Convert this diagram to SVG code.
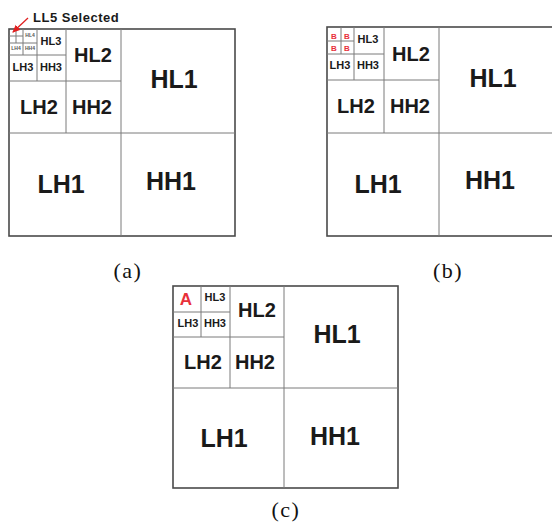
<svg xmlns="http://www.w3.org/2000/svg" width="552" height="524" viewBox="0 0 552 524">
<style>
.box{fill:#fff;stroke:#4a4a4a;stroke-width:1.6}
.ln{stroke:#7a7a7a;stroke-width:1;fill:none}
.t{font-family:"Liberation Sans",Arial,sans-serif;font-weight:bold;fill:#1a1a1a;text-anchor:middle}
.t1{font-size:25px}
.t2{font-size:20px}
.t3{font-size:11px}
.t4{font-size:5px;fill:#555}
.red{fill:#e8303a}
.cap{font-family:"Liberation Serif","Times New Roman",serif;font-size:22px;letter-spacing:1.5px;fill:#111;text-anchor:middle}
</style>
<defs>
<marker id="ah" markerWidth="8" markerHeight="8" refX="7" refY="4" orient="auto" markerUnits="userSpaceOnUse">
<path d="M0,0.5 L8,4 L0,7.5 Z" fill="#e02020"/>
</marker>
</defs>

<g id="panel-a">
<rect class="box" x="9" y="29" width="226" height="207"/>
<line class="ln" x1="121" y1="29" x2="121" y2="236"/>
<line class="ln" x1="9" y1="133" x2="235" y2="133"/>
<line class="ln" x1="66" y1="29" x2="66" y2="133"/>
<line class="ln" x1="9" y1="81" x2="121" y2="81"/>
<line class="ln" x1="37" y1="29" x2="37" y2="81"/>
<line class="ln" x1="9" y1="55" x2="66" y2="55"/>
<line class="ln" x1="23" y1="29" x2="23" y2="55"/>
<line class="ln" x1="9" y1="43" x2="37" y2="43"/>
<line class="ln" x1="16" y1="29" x2="16" y2="43"/>
<line class="ln" x1="9" y1="36" x2="23" y2="36"/>
<text class="t t1" x="174" y="88">HL1</text>
<text class="t t1" x="61" y="193">LH1</text>
<text class="t t1" x="171" y="190">HH1</text>
<text class="t t2" x="93" y="62">HL2</text>
<text class="t t2" x="39" y="114">LH2</text>
<text class="t t2" x="92" y="114">HH2</text>
<text class="t t3" x="51" y="45">HL3</text>
<text class="t t3" x="23" y="71">LH3</text>
<text class="t t3" x="51" y="71">HH3</text>
<text class="t t4" x="30" y="37">HL4</text>
<text class="t t4" x="16" y="50">LH4</text>
<text class="t t4" x="30" y="50">HH4</text>
<text class="t" x="33" y="22" style="font-size:13px;text-anchor:start;letter-spacing:0.5px">LL5 Selected</text>
</g>

<g id="panel-b">
<rect class="box" x="327" y="27" width="227" height="209"/>
<line class="ln" x1="439" y1="27" x2="439" y2="236"/>
<line class="ln" x1="327" y1="133" x2="554" y2="133"/>
<line class="ln" x1="384" y1="27" x2="384" y2="133"/>
<line class="ln" x1="327" y1="80" x2="439" y2="80"/>
<line class="ln" x1="354" y1="27" x2="354" y2="80"/>
<line class="ln" x1="327" y1="54" x2="384" y2="54"/>
<line class="ln" x1="341" y1="27" x2="341" y2="54"/>
<line class="ln" x1="327" y1="41" x2="354" y2="41"/>
<text class="t t1" x="493" y="87">HL1</text>
<text class="t t1" x="378" y="193">LH1</text>
<text class="t t1" x="490" y="189">HH1</text>
<text class="t t2" x="411" y="61">HL2</text>
<text class="t t2" x="356" y="113">LH2</text>
<text class="t t2" x="410" y="113">HH2</text>
<text class="t t3" x="368" y="43">HL3</text>
<text class="t t3" x="340" y="69">LH3</text>
<text class="t t3" x="368" y="69">HH3</text>
<text class="t red" x="334" y="39" style="font-size:8px">B</text>
<text class="t red" x="347" y="39" style="font-size:8px">B</text>
<text class="t red" x="334" y="51" style="font-size:8px">B</text>
<text class="t red" x="347" y="51" style="font-size:8px">B</text>
</g>

<g id="panel-c">
<rect class="box" x="173" y="286" width="225" height="202"/>
<line class="ln" x1="284" y1="286" x2="284" y2="488"/>
<line class="ln" x1="173" y1="388" x2="398" y2="388"/>
<line class="ln" x1="230" y1="286" x2="230" y2="388"/>
<line class="ln" x1="173" y1="337" x2="284" y2="337"/>
<line class="ln" x1="201" y1="286" x2="201" y2="337"/>
<line class="ln" x1="173" y1="312" x2="230" y2="312"/>
<text class="t t1" x="337" y="343">HL1</text>
<text class="t t1" x="224" y="447">LH1</text>
<text class="t t1" x="335" y="445">HH1</text>
<text class="t t2" x="257" y="317">HL2</text>
<text class="t t2" x="203" y="369">LH2</text>
<text class="t t2" x="255" y="369">HH2</text>
<text class="t t3" x="215" y="301">HL3</text>
<text class="t t3" x="188" y="327">LH3</text>
<text class="t t3" x="215" y="327">HH3</text>
<text class="t red" x="186" y="305" style="font-size:17px">A</text>
</g>

<g id="connectors">
<line x1="28" y1="18" x2="13" y2="32" stroke="#e02020" stroke-width="1.3" marker-end="url(#ah)"/>
</g>

<g id="captions">
<text class="cap" x="128" y="278">(a)</text>
<text class="cap" x="448" y="278">(b)</text>
<text class="cap" x="286" y="517">(c)</text>
</g>
</svg>
